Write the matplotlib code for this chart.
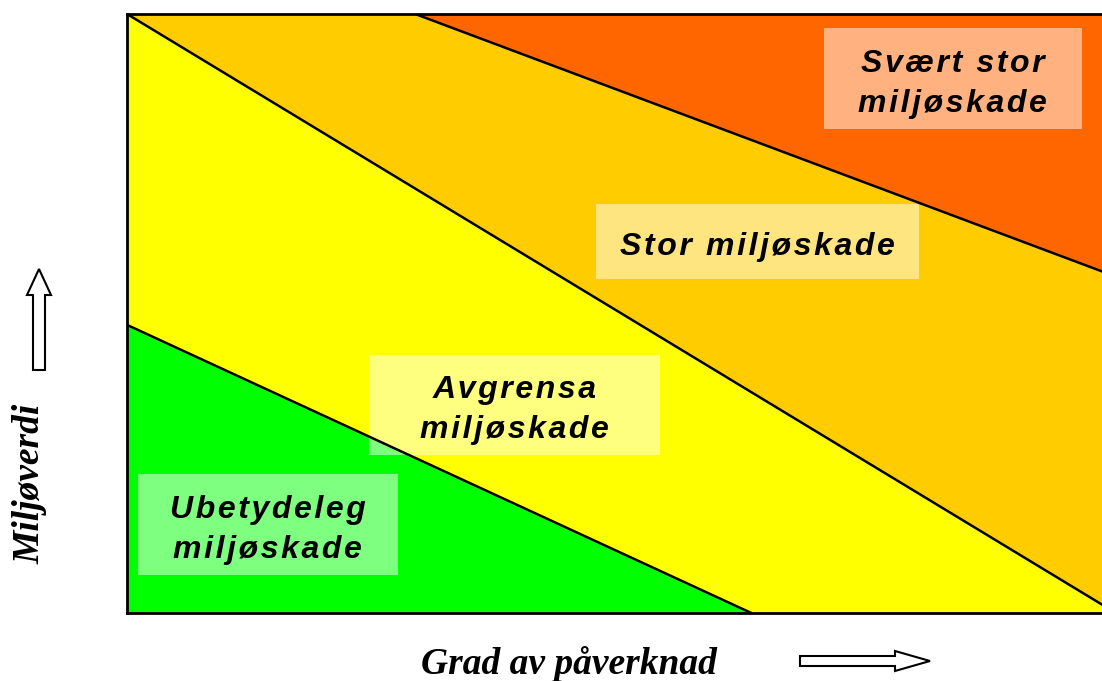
import matplotlib.pyplot as plt
from matplotlib.patches import Polygon, Rectangle, FancyArrow

# Zone boundaries (x = grad av påverknad, y = miljøverdi, both 0..1)
green_line_x = [0.0, 0.639]
green_line_y = [0.481, 0.0]
yellow_line_x = [0.0, 1.0]
yellow_line_y = [1.0, 0.012]
red_line_x = [0.295, 1.0]
red_line_y = [1.0, 0.569]

zone_colors = ["#00FF00", "#FFFF00", "#FFCC00", "#FF6600"]

labels = ["Ubetydeleg\nmiljøskade", "Avgrensa\nmiljøskade",
          "Stor miljøskade", "Svært stor\nmiljøskade"]
# label boxes: (x0, x1, y0, y1) in axis units
label_boxes = [(0.011, 0.277, 0.063, 0.232),
               (0.248, 0.546, 0.264, 0.431),
               (0.480, 0.811, 0.558, 0.683),
               (0.713, 0.977, 0.808, 0.977)]


def spaced(s):
    # the original renders with a little extra letter spacing
    return "\n".join("\u200a".join(line) for line in s.split("\n"))


fig = plt.figure(figsize=(11.02, 6.81), dpi=100)
ax = fig.add_axes([127 / 1102, 68 / 681, 977 / 1102, 599 / 681])
ax.set_xlim(0, 1)
ax.set_ylim(0, 1)

# fill zones from the boundary lines
ax.add_patch(Polygon([(0, 0), (green_line_x[0], green_line_y[0]),
                      (green_line_x[1], green_line_y[1])],
                     closed=True, facecolor=zone_colors[0], edgecolor="none"))
ax.add_patch(Polygon([(green_line_x[0], green_line_y[0]),
                      (yellow_line_x[0], yellow_line_y[0]),
                      (yellow_line_x[1], yellow_line_y[1]), (1, 0),
                      (green_line_x[1], green_line_y[1])],
                     closed=True, facecolor=zone_colors[1], edgecolor="none"))
ax.add_patch(Polygon([(yellow_line_x[0], yellow_line_y[0]),
                      (red_line_x[0], red_line_y[0]),
                      (red_line_x[1], red_line_y[1]),
                      (yellow_line_x[1], yellow_line_y[1])],
                     closed=True, facecolor=zone_colors[2], edgecolor="none"))
ax.add_patch(Polygon([(red_line_x[0], red_line_y[0]), (1, 1),
                      (red_line_x[1], red_line_y[1])],
                     closed=True, facecolor=zone_colors[3], edgecolor="none"))

for xs, ys in [(green_line_x, green_line_y), (yellow_line_x, yellow_line_y),
               (red_line_x, red_line_y)]:
    ax.plot(xs, ys, color="black", lw=1.8, solid_capstyle="butt")

# label boxes (semi-transparent white) and text
for text, (x0, x1, y0, y1) in zip(labels, label_boxes):
    ax.add_patch(Rectangle((x0, y0), x1 - x0, y1 - y0, facecolor="white",
                           alpha=0.5, edgecolor="none"))
    ax.text((x0 + x1) / 2, (y0 + y1) / 2 - 0.009, spaced(text), ha="center",
            va="center", fontsize=23, fontweight="bold", fontstyle="italic",
            family=["Liberation Sans", "DejaVu Sans"], linespacing=1.45,
            color="black")

ax.set_xticks([])
ax.set_yticks([])
for side in ["top", "left", "bottom"]:
    ax.spines[side].set_linewidth(2)
    ax.spines[side].set_color("black")
ax.spines["right"].set_visible(False)

# axis labels
fig.text(569 / 1102, 1 - 664 / 681, "Grad av påverknad", ha="center",
         va="center", fontsize=27, fontweight="bold", fontstyle="italic",
         family="Liberation Serif")
fig.text(30 / 1102, 1 - 484 / 681, "Miljøverdi", ha="center", va="center",
         rotation=90, fontsize=27, fontweight="bold", fontstyle="italic",
         family="Liberation Serif")

# outline arrows
W, H = 1102, 681
fig.add_artist(FancyArrow(800 / W, 1 - 661 / H, 95 / W, 0, width=10 / H,
                          head_width=20 / H, head_length=35 / W,
                          length_includes_head=False, facecolor="white",
                          edgecolor="black", lw=1.5,
                          transform=fig.transFigure))
fig.add_artist(FancyArrow(39 / W, 1 - 370 / H, 0, 75 / H, width=12 / W,
                          head_width=24 / W, head_length=26 / H,
                          length_includes_head=False, facecolor="white",
                          edgecolor="black", lw=1.5,
                          transform=fig.transFigure))

fig.savefig("out.png", dpi=100)
